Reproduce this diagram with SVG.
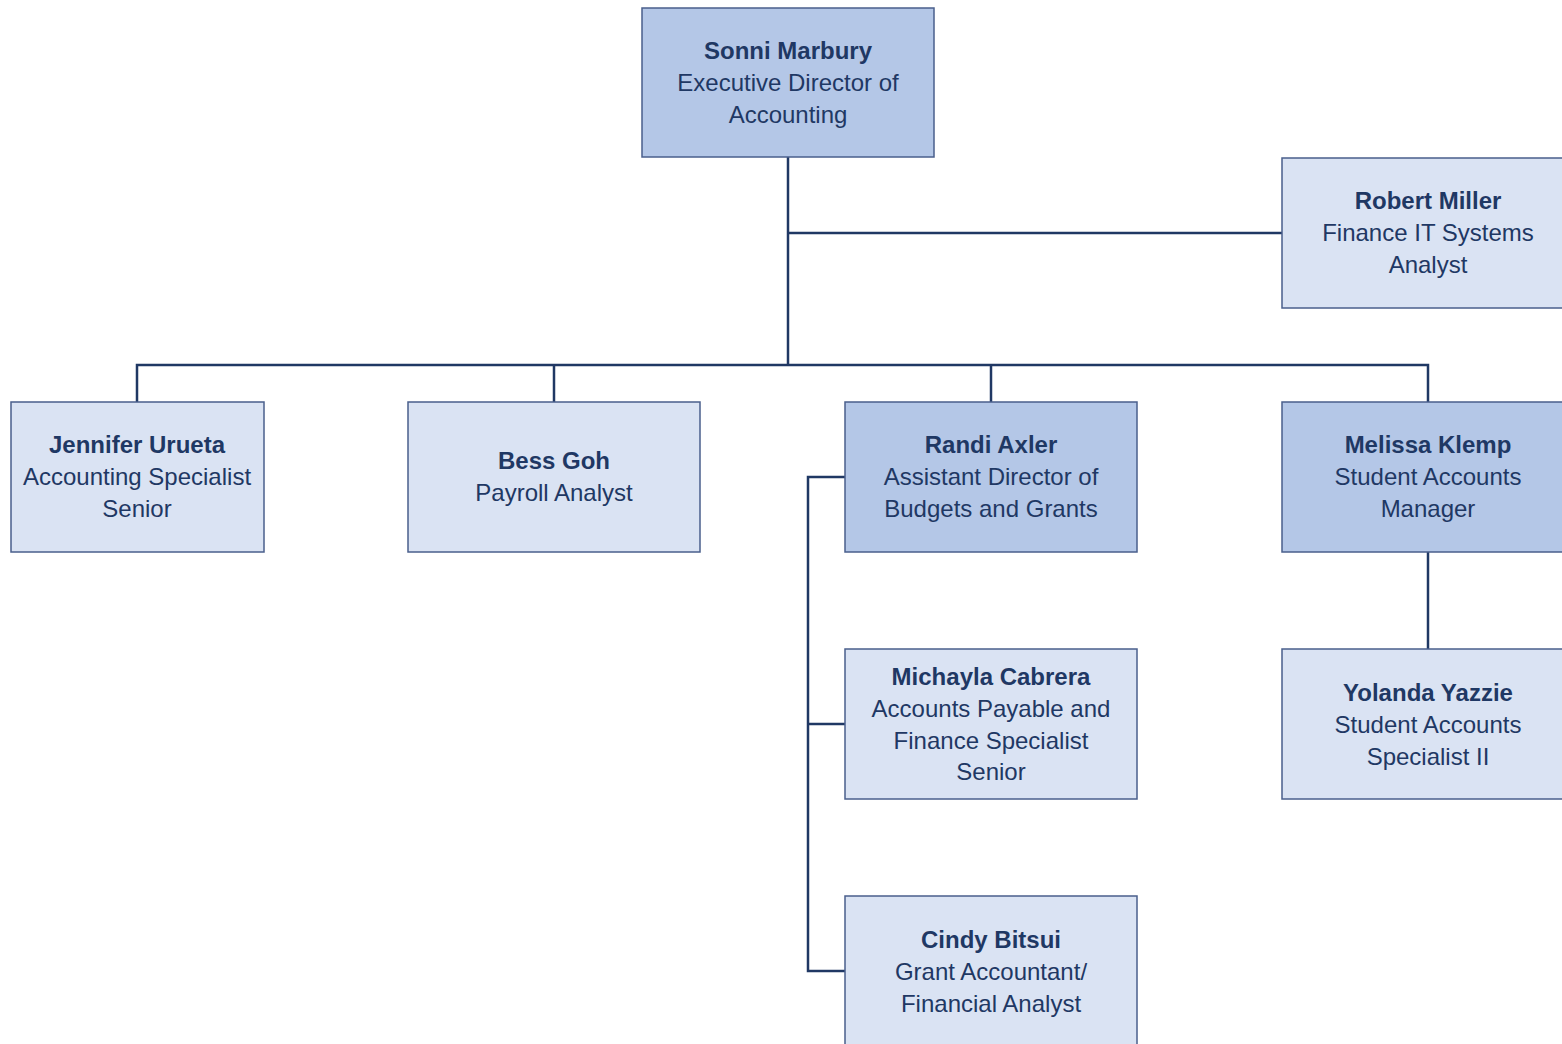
<svg xmlns="http://www.w3.org/2000/svg" width="1562" height="1044" viewBox="0 0 1562 1044">
<style>
.box{stroke:#4A5F8C;stroke-width:1.5}
.dark{fill:#B4C7E7}
.light{fill:#DAE3F3}
text{font-family:"Liberation Sans",Arial,sans-serif;font-size:24px;fill:#1F3864;text-anchor:middle}
.n{font-weight:bold}
.c{fill:none;stroke:#203864;stroke-width:2.5}
</style>
<rect width="1562" height="1044" fill="#FFFFFF"/>
<g id="connectors">
<path class="c" d="M788,157 V365"/>
<path class="c" d="M788,233 H1282"/>
<path class="c" d="M137,402 V365 H1428 V402"/>
<path class="c" d="M554,365 V402"/>
<path class="c" d="M991,365 V402"/>
<path class="c" d="M1428,552 V649"/>
<path class="c" d="M845,477 H808 V971 H845"/>
<path class="c" d="M808,724 H845"/>
</g>
<g id="sonni">
<rect class="box dark" x="642" y="8" width="292" height="149"/>
<text x="788" y="59" class="n">Sonni Marbury</text>
<text x="788" y="91">Executive Director of</text>
<text x="788" y="123">Accounting</text>
</g>
<g id="robert">
<rect class="box light" x="1282" y="158" width="292" height="150"/>
<text x="1428" y="209" class="n">Robert Miller</text>
<text x="1428" y="241">Finance IT Systems</text>
<text x="1428" y="273">Analyst</text>
</g>
<g id="jennifer">
<rect class="box light" x="11" y="402" width="253" height="150"/>
<text x="137" y="453" class="n">Jennifer Urueta</text>
<text x="137" y="485">Accounting Specialist</text>
<text x="137" y="517">Senior</text>
</g>
<g id="bess">
<rect class="box light" x="408" y="402" width="292" height="150"/>
<text x="554" y="469" class="n">Bess Goh</text>
<text x="554" y="501">Payroll Analyst</text>
</g>
<g id="randi">
<rect class="box dark" x="845" y="402" width="292" height="150"/>
<text x="991" y="453" class="n">Randi Axler</text>
<text x="991" y="485">Assistant Director of</text>
<text x="991" y="517">Budgets and Grants</text>
</g>
<g id="melissa">
<rect class="box dark" x="1282" y="402" width="292" height="150"/>
<text x="1428" y="453" class="n">Melissa Klemp</text>
<text x="1428" y="485">Student Accounts</text>
<text x="1428" y="517">Manager</text>
</g>
<g id="michayla">
<rect class="box light" x="845" y="649" width="292" height="150"/>
<text x="991" y="685" class="n">Michayla Cabrera</text>
<text x="991" y="717">Accounts Payable and</text>
<text x="991" y="749">Finance Specialist</text>
<text x="991" y="780">Senior</text>
</g>
<g id="yolanda">
<rect class="box light" x="1282" y="649" width="292" height="150"/>
<text x="1428" y="701" class="n">Yolanda Yazzie</text>
<text x="1428" y="733">Student Accounts</text>
<text x="1428" y="765">Specialist II</text>
</g>
<g id="cindy">
<rect class="box light" x="845" y="896" width="292" height="150"/>
<text x="991" y="948" class="n">Cindy Bitsui</text>
<text x="991" y="980">Grant Accountant/</text>
<text x="991" y="1012">Financial Analyst</text>
</g>
</svg>
